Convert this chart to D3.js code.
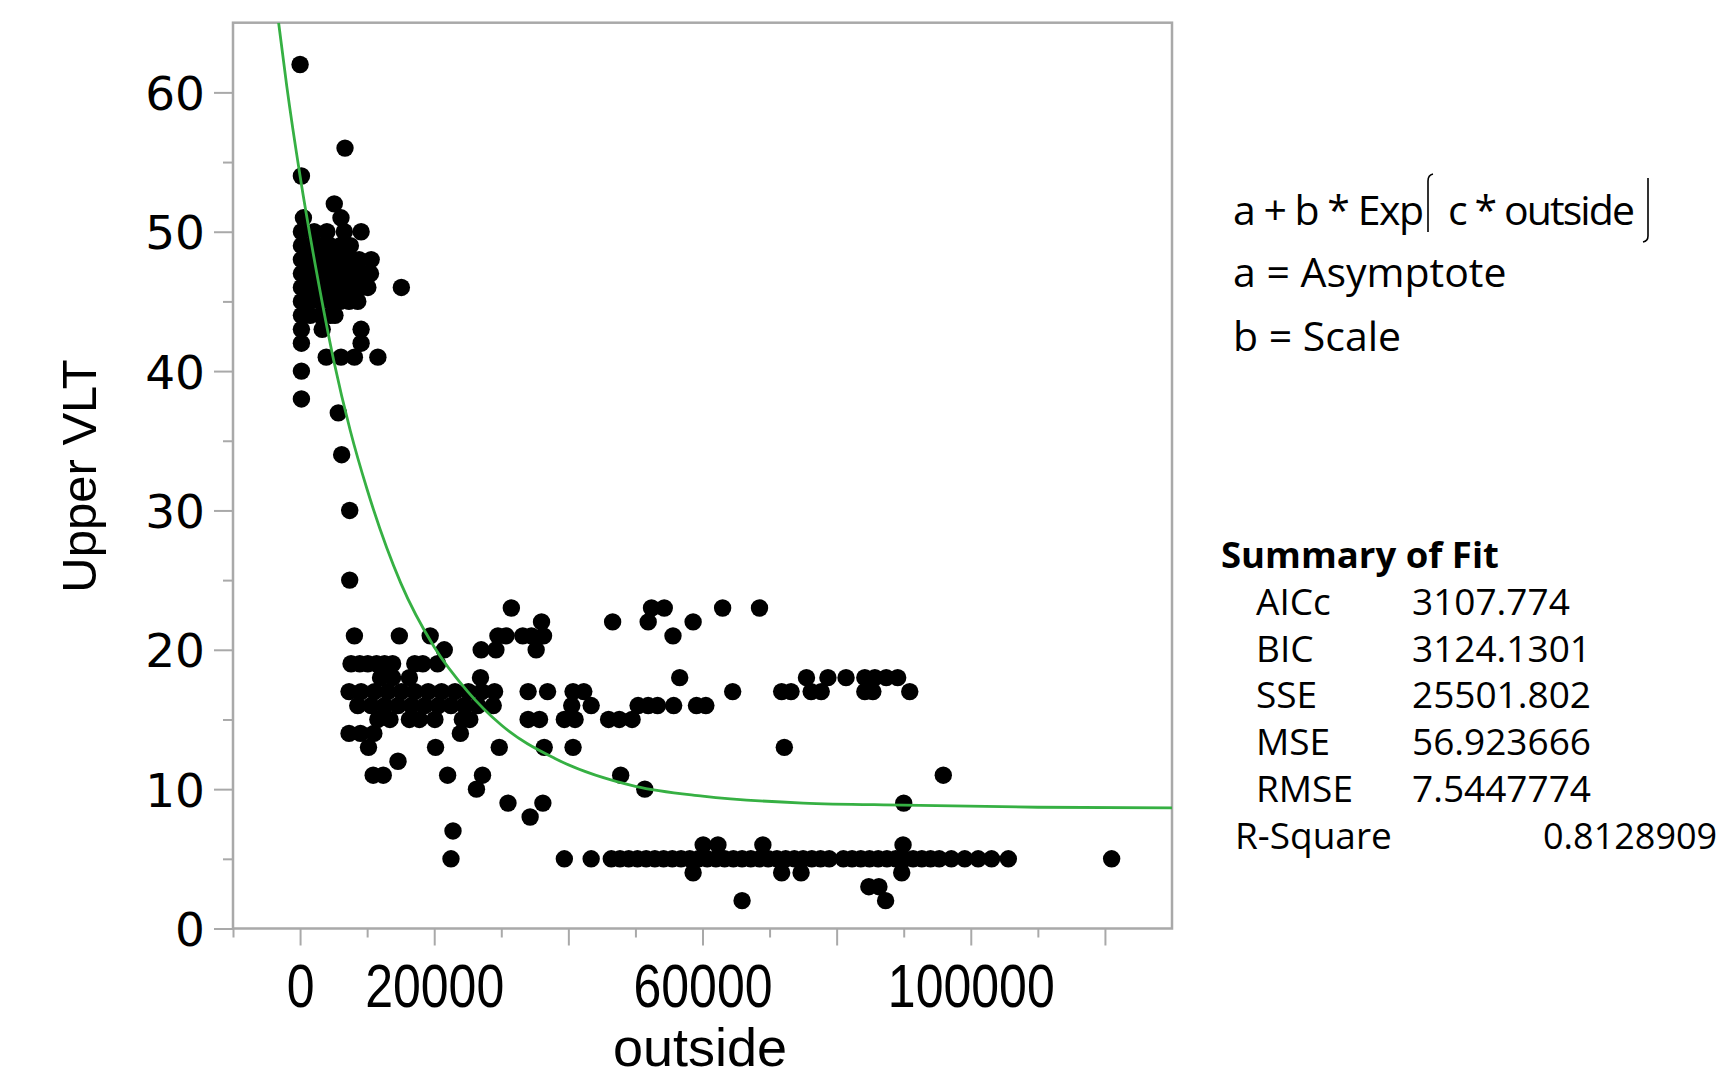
<!DOCTYPE html>
<html>
<head>
<meta charset="utf-8">
<script src="https://cdn.jsdelivr.net/npm/d3@7"></script>
<style>
  body { margin: 0; background: #fff; }
</style>
</head>
<body>
<div id="chart"></div>
<script>
// points: [outside, Upper VLT]
var leftCluster = [
    [0, 62], [6700, 56], [200, 54], [5100, 52], [500, 51], [6100, 51],
    [200, 50], [2100, 50], [4000, 50], [6600, 50], [9100, 50],
    [200, 49], [1500, 49], [3000, 49], [4500, 49], [6000, 49], [7500, 49],
    [200, 48], [1200, 48], [2500, 48], [3800, 48], [5000, 48], [6300, 48], [7600, 48], [8800, 48], [10600, 48],
    [200, 47], [1100, 47], [2200, 47], [3400, 47], [4600, 47], [5800, 47], [7000, 47], [8200, 47], [9400, 47], [10500, 47],
    [200, 46], [1300, 46], [2600, 46], [3900, 46], [5200, 46], [6500, 46], [7800, 46], [9000, 46], [10100, 46], [15100, 46],
    [200, 45], [1500, 45], [3000, 45], [4500, 45], [6000, 45], [7300, 45], [8600, 45],
    [200, 44], [1500, 44], [3000, 44], [4500, 44], [5200, 44],
    [200, 43], [3300, 43], [9100, 43],
    [200, 42], [9100, 42],
    [3900, 41], [6100, 41], [8100, 41], [11600, 41],
    [200, 40], [200, 38], [5700, 37], [6200, 34], [7400, 30], [7400, 25]
];

var midCluster = [
    [31500, 23], [52400, 23], [54300, 23], [63000, 23], [68500, 23],
    [36000, 22], [46600, 22], [51900, 22], [58600, 22],
    [8100, 21], [14800, 21], [19400, 21], [29500, 21], [30700, 21], [33200, 21], [34500, 21], [36300, 21], [55600, 21],
    [21500, 20], [27000, 20], [29200, 20], [35200, 20],
    [7600, 19], [8900, 19], [10100, 19], [11400, 19], [12600, 19], [13800, 19], [17100, 19], [18300, 19], [20500, 19],
    [12000, 18], [13800, 18], [16300, 18], [26900, 18], [56600, 18], [75500, 18], [78700, 18], [81400, 18],
    [84200, 18], [85700, 18], [87400, 18], [89100, 18],
    [7300, 17], [9100, 17], [11100, 17], [13100, 17], [15100, 17], [17100, 17], [19100, 17], [21100, 17],
    [23100, 17], [25100, 17], [27100, 17], [29000, 17], [34000, 17], [36900, 17], [40700, 17], [42300, 17],
    [64500, 17], [71800, 17], [73200, 17], [76200, 17], [77700, 17], [84200, 17], [85400, 17], [90900, 17],
    [8600, 16], [10600, 16], [12600, 16], [14600, 16], [16600, 16], [18600, 16], [20600, 16], [22500, 16],
    [24500, 16], [26500, 16], [28800, 16], [40500, 16], [43400, 16], [50400, 16], [51900, 16], [53300, 16],
    [55700, 16], [59100, 16], [60500, 16],
    [11600, 15], [13400, 15], [16300, 15], [17800, 15], [20100, 15], [24200, 15], [25300, 15], [34000, 15],
    [35700, 15], [39400, 15], [41000, 15], [46000, 15], [47600, 15], [49500, 15],
    [7300, 14], [9000, 14], [11000, 14], [23900, 14],
    [10200, 13], [20200, 13], [29700, 13], [36400, 13], [40700, 13], [72200, 13],
    [14600, 12],
    [10900, 11], [12400, 11], [22000, 11], [27200, 11], [47800, 11], [95900, 11],
    [26300, 10], [51400, 10],
    [31000, 9], [36200, 9], [90000, 9],
    [34300, 8], [22800, 7]
];

var lowBand = [
    [60100, 6], [62300, 6], [69000, 6], [89900, 6],
    [22500, 5], [39400, 5], [43400, 5], [46400, 5], [47700, 5], [49000, 5], [50300, 5], [51600, 5], [52900, 5],
    [54200, 5], [55500, 5], [56800, 5], [58100, 5], [59400, 5], [60700, 5], [62000, 5], [63300, 5], [64600, 5],
    [65900, 5], [67200, 5], [68500, 5], [69800, 5], [71100, 5], [72400, 5], [73700, 5], [75000, 5], [76300, 5],
    [77600, 5], [78900, 5], [81000, 5], [82300, 5], [83600, 5], [84900, 5], [86200, 5], [87500, 5], [88800, 5],
    [90100, 5], [91400, 5], [92700, 5], [94000, 5], [95300, 5], [97100, 5], [99100, 5], [101100, 5], [103100, 5],
    [105600, 5], [121000, 5],
    [58600, 4], [71800, 4], [74700, 4], [89700, 4],
    [84800, 3], [86300, 3],
    [65900, 2], [87300, 2]
];

// fitted curve a + b*Exp(c*outside)
var fitCurve = [
    [-3200, 65], [-2000, 60.5], [0, 54], [2500, 47], [5000, 40.8], [7500, 35.7], [10000, 31.5],
    [15000, 24.8], [20000, 20.2], [25000, 17], [30000, 14.6], [38000, 12.2], [50000, 10.2],
    [60000, 9.5], [75000, 9.0], [90000, 8.85], [110000, 8.7], [130000, 8.65]
];

var yTicks = [0, 10, 20, 30, 40, 50, 60];
var yMinor = [5, 15, 25, 35, 45, 55];
var xTicks = [0, 20000, 40000, 60000, 80000, 100000, 120000];
var xMinor = [-10000, 10000, 30000, 50000, 70000, 90000, 110000];
var xLabels = [0, 20000, 60000, 100000];

var modelText = ["a + b * Exp", "c * outside"];
var paramLines = ["a = Asymptote", "b = Scale"];
var fitTitle = "Summary of Fit";
var fitNames = ["AICc", "BIC", "SSE", "MSE", "RMSE"];
var fitValues = ["3107.774", "3124.1301", "25501.802", "56.923666", "7.5447774"];
var rsqName = "R-Square";
var rsqValue = "0.8128909";

// formatting parameters
var margin = { top: 22.7, left: 233, right: 551, bottom: 148.5 };
var width = 1723 - margin.left - margin.right;
var height = 1077 - margin.top - margin.bottom;
var frameColor = "#a9a9a9";

var root = d3.select("#chart")
    .append("svg")
    .attr("width", 1723)
    .attr("height", 1077);

var svg = root.append("g")
    .attr("transform", "translate(" + margin.left + "," + margin.top + ")");

var x = d3.scaleLinear().domain([-10000, 130000]).range([0, width]);
var y = d3.scaleLinear().domain([0, 65]).range([height, 0]);

svg.append("clipPath").attr("id", "plotClip")
    .append("rect").attr("width", width).attr("height", height);

// x axis: major + minor ticks
var xAxis = svg.append("g")
    .attr("transform", "translate(0," + height + ")")
    .call(d3.axisBottom(x).tickValues(xTicks).tickSize(17)
        .tickFormat(function (d) { return xLabels.indexOf(d) >= 0 ? d : ""; }));
svg.append("g")
    .attr("transform", "translate(0," + height + ")")
    .call(d3.axisBottom(x).tickValues(xMinor).tickSize(9).tickFormat(""));

// y axis: major + minor ticks
var yAxis = svg.append("g")
    .call(d3.axisLeft(y).tickValues(yTicks).tickSize(19));
svg.append("g")
    .call(d3.axisLeft(y).tickValues(yMinor).tickSize(10).tickFormat(""));

svg.selectAll(".domain").remove();
svg.selectAll(".tick line").attr("stroke", frameColor).attr("stroke-width", 2);

// narrow digits on the x axis
xAxis.selectAll("text")
    .attr("y", 79)
    .attr("dy", null)
    .attr("transform", "scale(0.82,1)")
    .style("font-family", "'Liberation Sans', sans-serif")
    .style("font-size", "61px")
    .attr("fill", "#000");

yAxis.selectAll("text")
    .attr("x", -28)
    .attr("dy", "0.36em")
    .style("font-family", "'DejaVu Sans', sans-serif")
    .style("font-size", "47px")
    .attr("fill", "#000");

// frame
svg.append("rect")
    .attr("width", width)
    .attr("height", height)
    .attr("fill", "none")
    .attr("stroke", frameColor)
    .attr("stroke-width", 2.5);

// points
var plot = svg.append("g").attr("clip-path", "url(#plotClip)");
var allPoints = leftCluster.concat(midCluster, lowBand);
plot.selectAll("circle")
    .data(allPoints)
    .enter()
    .append("circle")
    .attr("cx", function (d) { return x(d[0]); })
    .attr("cy", function (d) { return y(d[1]); })
    .attr("r", 8.7)
    .attr("fill", "#000");

// fitted line
plot.append("path")
    .datum(fitCurve)
    .attr("fill", "none")
    .attr("stroke", "#36b043")
    .attr("stroke-width", 2.8)
    .attr("d", d3.line()
        .x(function (d) { return x(d[0]); })
        .y(function (d) { return y(d[1]); })
        .curve(d3.curveMonotoneX));

// axis titles
root.append("text")
    .attr("transform", "translate(96,476) rotate(-90)")
    .attr("text-anchor", "middle")
    .style("font-family", "'Liberation Sans', sans-serif")
    .style("font-size", "49px")
    .text("Upper VLT");

root.append("text")
    .attr("x", 700)
    .attr("y", 1066)
    .attr("text-anchor", "middle")
    .style("font-family", "'Liberation Sans', sans-serif")
    .style("font-size", "54px")
    .text("outside");

// model formula with JMP style brackets
var panelFont = "'Open Sans', 'Noto Sans', sans-serif";
var model = root.append("g")
    .attr("transform", "translate(1233,0)")
    .style("font-family", panelFont)
    .style("font-size", "41px");

model.append("text").attr("x", 0).attr("y", 225)
    .attr("textLength", 191).attr("lengthAdjust", "spacing")
    .text(modelText[0]);
var bx1 = 195;
model.append("path")
    .attr("d", "M" + (bx1 + 5) + ",174 Q" + bx1 + ",175 " + bx1 + ",181 L" + bx1 + ",232")
    .attr("fill", "none").attr("stroke", "#000").attr("stroke-width", 1.6);
model.append("text").attr("x", bx1 + 20).attr("y", 225)
    .attr("textLength", 187).attr("lengthAdjust", "spacing")
    .text(modelText[1]);
var bx2 = bx1 + 20 + 187 + 13;
model.append("path")
    .attr("d", "M" + bx2 + ",178 L" + bx2 + ",236 Q" + bx2 + ",241 " + (bx2 - 5) + ",242")
    .attr("fill", "none").attr("stroke", "#000").attr("stroke-width", 1.6);

model.selectAll(".param")
    .data(paramLines)
    .enter()
    .append("text")
    .attr("class", "param")
    .attr("x", 0)
    .attr("y", function (d, i) { return 287 + i * 64; })
    .text(function (d) { return d; });

// summary of fit table
var summary = root.append("g")
    .style("font-family", panelFont)
    .style("font-size", "37px");

summary.append("text")
    .attr("x", 1221)
    .attr("y", 568)
    .style("font-weight", "bold")
    .style("font-size", "36.5px")
    .text(fitTitle);

summary.selectAll(".fname")
    .data(fitNames)
    .enter()
    .append("text")
    .attr("x", 1256)
    .attr("y", function (d, i) { return 615 + i * 46.7; })
    .text(function (d) { return d; });

summary.selectAll(".fval")
    .data(fitValues)
    .enter()
    .append("text")
    .attr("x", 1412)
    .attr("y", function (d, i) { return 615 + i * 46.7; })
    .text(function (d) { return d; });

summary.append("text").attr("x", 1235).attr("y", 848.5).text(rsqName);
summary.append("text").attr("x", 1543).attr("y", 848.5)
    .style("font-size", "36px")
    .text(rsqValue);
</script>
</body>
</html>
